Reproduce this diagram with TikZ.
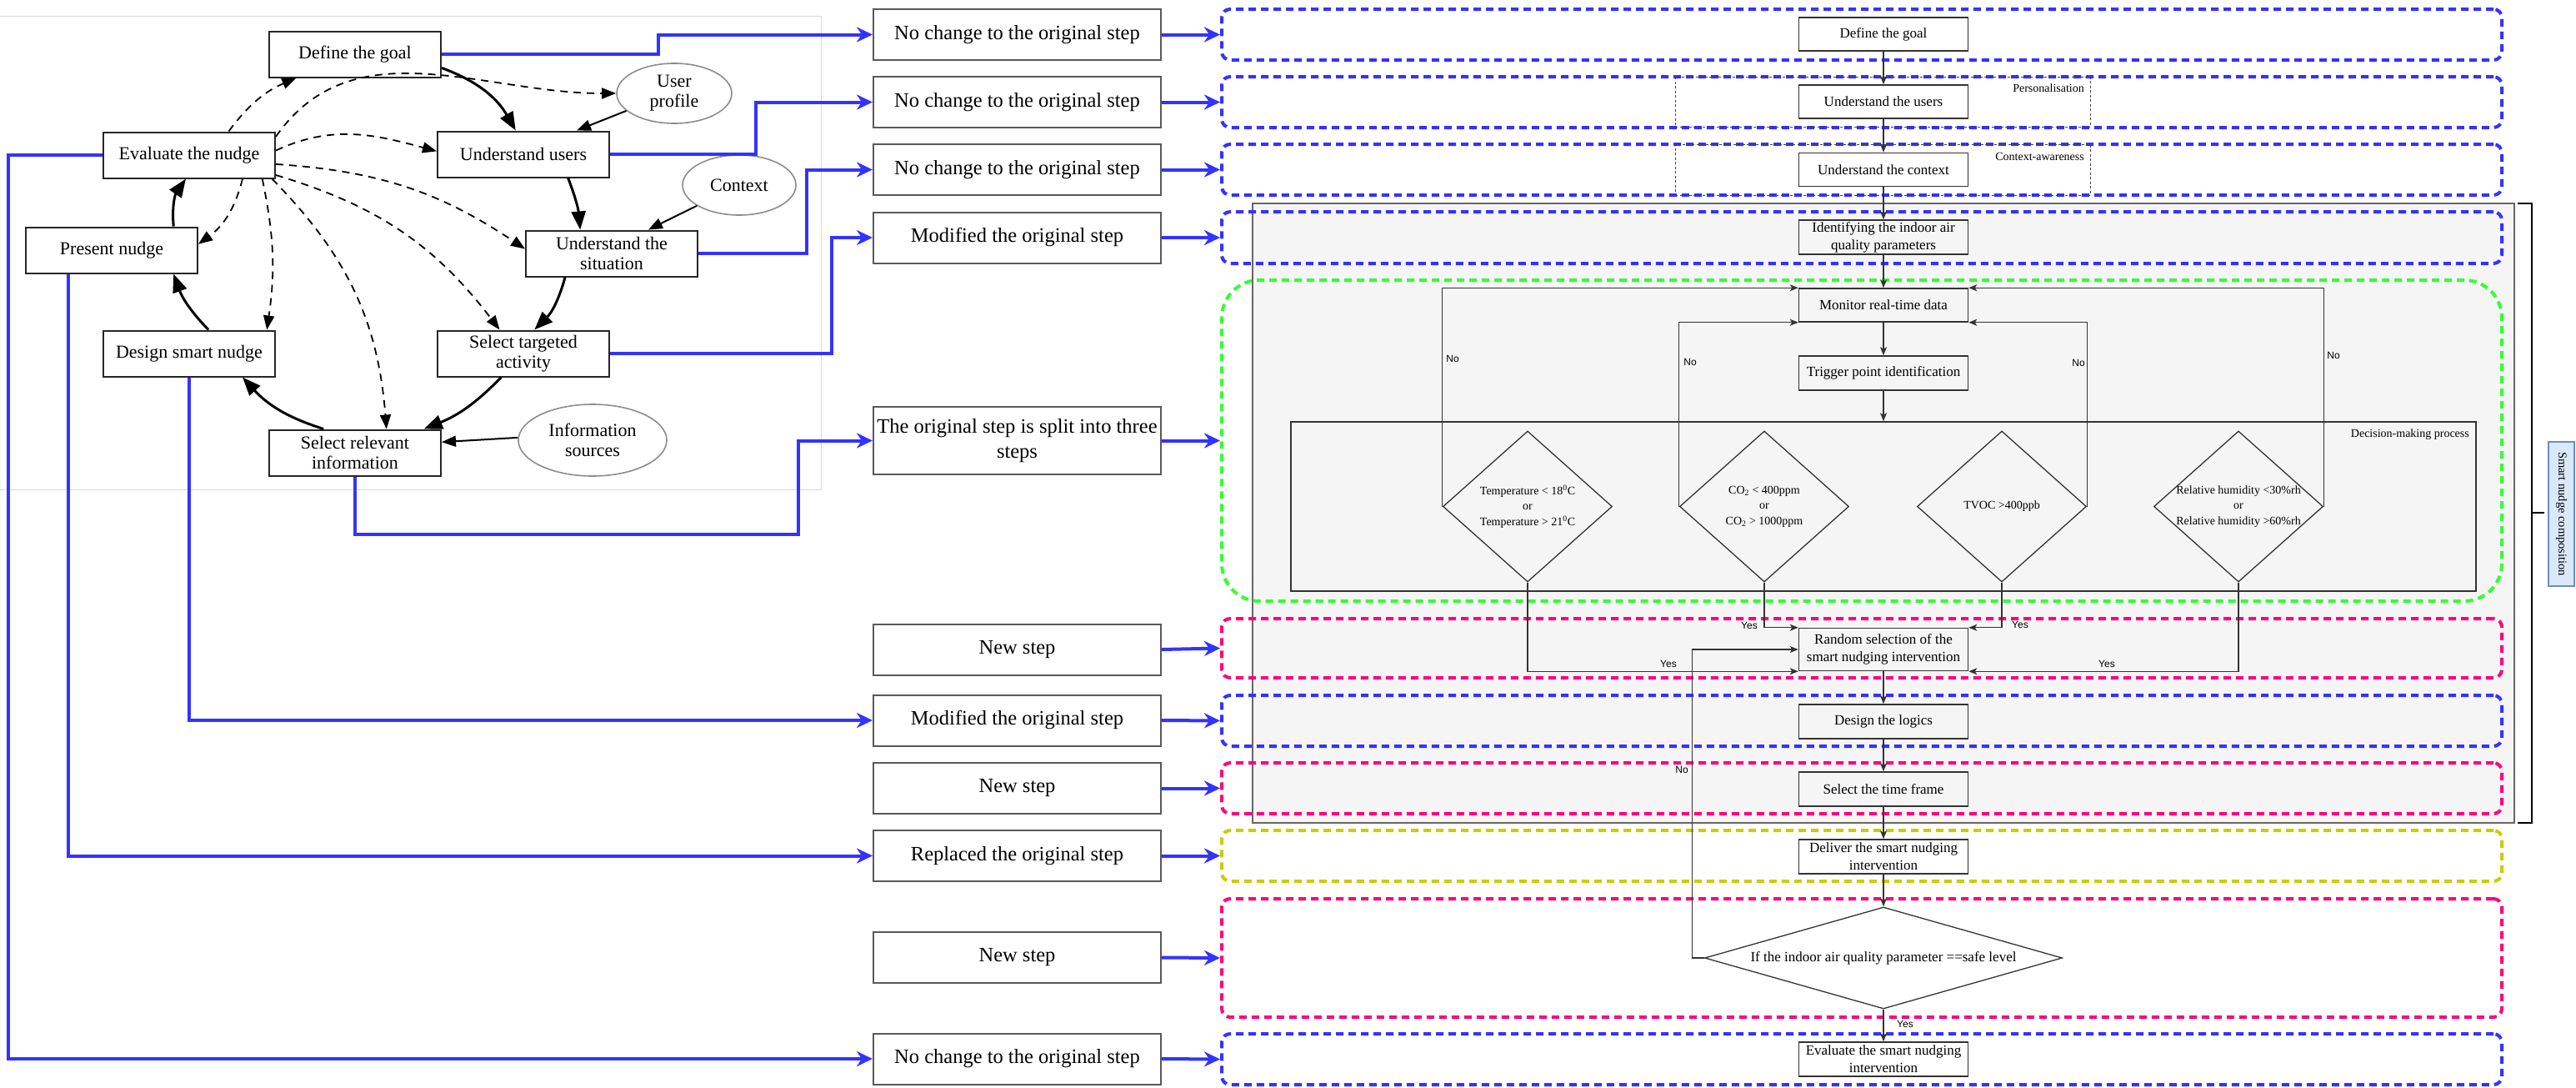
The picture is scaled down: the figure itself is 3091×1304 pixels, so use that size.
\documentclass[tikz,border=0pt]{standalone}
\usepackage{fontspec}
\setmainfont{Liberation Serif}
\newfontfamily\labelsans{Liberation Sans}
\usetikzlibrary{arrows.meta,shapes.geometric,calc}
\definecolor{linkblue}{RGB}{51,51,255}
\definecolor{rowpink}{RGB}{255,0,128}
\definecolor{rowgreen}{RGB}{51,255,51}
\definecolor{rowyellow}{RGB}{204,204,0}
\definecolor{panelgray}{RGB}{245,245,245}
\definecolor{panelline}{RGB}{102,102,102}
\definecolor{tagfill}{RGB}{218,232,252}
\definecolor{tagline}{RGB}{108,142,191}
\begin{document}
\begin{tikzpicture}[x=1pt,y=-1pt,
  cycbox/.style={draw=black!85, line width=2pt, minimum width=206pt, minimum height=55pt,
    inner sep=1pt, align=center, font=\fontsize{22}{24}\selectfont},
  cycell/.style={ellipse, draw=black!45, line width=1.6pt, inner sep=0pt, align=center,
    font=\fontsize{22}{24}\selectfont},
  cycstep/.style={line width=3pt, -{Triangle[length=22pt,width=17pt]}},
  cycdash/.style={line width=1.8pt, dash pattern=on 9pt off 7pt, -{Triangle[length=17pt,width=13pt]}},
  cycthin/.style={line width=2pt, -{Triangle[length=17pt,width=13pt]}},
  midbox/.style={draw=black!65, line width=2pt, minimum width=345pt, minimum height=61pt,
    inner sep=1pt, align=center, font=\fontsize{24.5}{30}\selectfont},
  link/.style={draw=linkblue, line width=4pt, -{Stealth[length=19pt,width=18pt,inset=6pt]}},
  rowframe/.style={line width=4pt, dash pattern=on 9pt off 6pt, rounded corners=10pt,
    minimum width=1536pt, inner sep=0pt},
  flowbox/.style={draw=black!80, line width=1.5pt, minimum width=203pt, minimum height=40pt,
    inner sep=1pt, align=center, font=\fontsize{17}{21}\selectfont},
  flow/.style={draw=black!80, line width=1.2pt, -{Stealth[length=10pt,width=8pt,inset=2.5pt]}},
  flowdia/.style={diamond, draw=black!80, line width=1.3pt, inner sep=0pt},
  diatext/.style={align=center, font=\fontsize{14}{18.5}\selectfont, inner sep=0pt},
  yn/.style={font=\labelsans\fontsize{12}{14}\selectfont, inner sep=1pt},
  groupframe/.style={draw=black!75, dash pattern=on 3pt off 2.5pt, line width=1pt,
    minimum width=498pt, inner sep=0pt},
  smalltag/.style={font=\fontsize{14}{16}\selectfont, inner sep=0pt, anchor=east}
]
\useasboundingbox (0,0) rectangle (3091,1304);

% faint frame round the nudging cycle
\draw[black!15, line width=1pt] (0,19) -- (985,19) -- (985,587) -- (0,587);

% ---------------- nudging cycle ----------------
\node[cycbox] (goal) at (426,65) {Define the goal};
\node[cycbox] (evaluate) at (227,186) {Evaluate the nudge};
\node[cycbox] (users) at (628,185) {Understand users};
\node[cycbox] (present) at (134,300) {Present nudge};
\node[cycbox] (situation) at (734,304) {Understand the\\situation};
\node[cycbox] (design) at (227,424) {Design smart nudge};
\node[cycbox] (targeted) at (628,424) {Select targeted\\activity};
\node[cycbox] (relevant) at (426,543) {Select relevant\\information};
\node[cycell, minimum width=138pt, minimum height=72pt] (uprof) at (809,112) {User\\profile};
\node[cycell, minimum width=136pt, minimum height=72pt] (context) at (887,222) {Context};
\node[cycell, minimum width=178pt, minimum height=86pt] (infosrc) at (711,528) {Information\\sources};

\draw[cycstep] (goal.-9) to[bend left=20] (users.108);
\draw[cycstep] (users.-28) to[bend left=8] (situation.143);
\draw[cycstep] (situation.207) to[bend left=15] (targeted.65);
\draw[cycstep] (targeted.227) to[bend left=12] (relevant.19);
\draw[cycstep] (relevant.143) to[bend left=15] (design.-24);
\draw[cycstep] (design.51) to[bend left=12] (present.-21);
\draw[cycstep] (present.21) to[bend left=20] (evaluate.-98);
\draw[cycdash] (evaluate.31) to[bend left=15] (goal.202);
\draw[cycdash] (evaluate.12) to[out=55,in=180] (uprof.west);
\draw[cycdash] (evaluate.3) to[out=25,in=165] (users.178);
\draw[cycdash] (evaluate.-6) to[bend left=15] (situation.177);
\draw[cycdash] (evaluate.-13) to[bend left=18] (targeted.135);
\draw[cycdash] (evaluate.-16) to[bend left=20] (relevant.37);
\draw[cycdash] (evaluate.-18) to[bend left=10] (design.17);
\draw[cycdash] (evaluate.-24) to[bend left=20] (present.4);
\draw[cycthin] (uprof.200) -- (users.24);
\draw[cycthin] (context.206) -- (situation.33);
\draw[cycthin] (infosrc.178) -- (relevant.7);

% ---------------- change notes ----------------
\node[midbox] (m1) at (1220.5,41.5) {No change to the original step};
\node[midbox] (m2) at (1220.5,122.5) {No change to the original step};
\node[midbox] (m3) at (1220.5,203.5) {No change to the original step};
\node[midbox] (m4) at (1220.5,285) {Modified the original step};
\node[midbox, minimum height=81pt] (m5) at (1220.5,528.5) {The original step is split into three\\steps};
\node[midbox] (m6) at (1220.5,779) {New step};
\node[midbox] (m7) at (1220.5,864) {Modified the original step};
\node[midbox] (m8) at (1220.5,945.5) {New step};
\node[midbox] (m9) at (1220.5,1026.5) {Replaced the original step};
\node[midbox] (m10) at (1220.5,1148.5) {New step};
\node[midbox] (m11) at (1220.5,1270) {No change to the original step};

\draw[link] (goal.east) -- ++(260,0) |- (m1.west);
\draw[link] (users.east) -- ++(175,0) |- (m2.west);
\draw[link] (situation.east) -- ++(130,0) |- (m3.west);
\draw[link] (targeted.east) -- ++(266,0) |- (m4.west);
\draw[link] (relevant.south) |- (958,641) |- (m5.west);
\draw[link] (design.south) |- (m7.west);
\draw[link] ($(present.south west)!0.25!(present.south east)$) |- (m9.west);
\draw[link] (evaluate.west) -- ++(-113,0) |- (m11.west);

% ---------------- smart nudge composition panel ----------------
\node[draw=panelline, fill=panelgray, line width=1.5pt, minimum width=1514pt, minimum height=743pt,
  inner sep=0pt] (comp) at (2260,615.5) {};
\draw[line width=2.5pt] (3021,244) -- (3038,244) -- (3038,987) -- (3021,987);
\coordinate (bracemid) at (3038,615);
\node[draw=tagline, fill=tagfill, line width=1.2pt, rotate=-90, minimum width=173pt,
  minimum height=31pt, inner sep=0pt, font=\fontsize{14.5}{16}\selectfont] (tag) at (3073.5,616.5)
  {Smart nudge composition};
\draw[line width=2.5pt] (bracemid) -- ++(15,0);

% step frames
\node[rowframe, draw=linkblue, minimum height=61pt] (r1) at (2234,41.5) {};
\node[rowframe, draw=linkblue, minimum height=61pt] (r2) at (2234,122.5) {};
\node[rowframe, draw=linkblue, minimum height=61pt] (r3) at (2234,203.5) {};
\node[rowframe, draw=linkblue, minimum height=62pt] (r4) at (2234,285) {};
\node[rowframe, draw=rowgreen, minimum height=385pt, rounded corners=45pt] (r5) at (2234,528.5) {};
\node[rowframe, draw=rowpink, minimum height=71pt] (r6) at (2234,777.5) {};
\node[rowframe, draw=linkblue, minimum height=61pt] (r7) at (2234,864.5) {};
\node[rowframe, draw=rowpink, minimum height=61pt] (r8) at (2234,945.5) {};
\node[rowframe, draw=rowyellow, minimum height=61pt] (r9) at (2234,1026.5) {};
\node[rowframe, draw=rowpink, minimum height=142pt] (r10) at (2234,1149) {};
\node[rowframe, draw=linkblue, minimum height=61pt] (r11) at (2234,1270.5) {};

\foreach \i in {1,...,11} {\draw[link] (m\i.east) -- (r\i.west);}

% personalisation / context-awareness groups
\node[groupframe, minimum height=60pt] (gpers) at (2259,122) {};
\node[groupframe, minimum height=61pt] (gctx) at (2259,203.5) {};
\node[smalltag] (perstag) at (2501,106) {Personalisation};
\node[smalltag] (ctxtag) at (2501,188) {Context-awareness};

% ---------------- smart nudging flowchart ----------------
\node[draw=black!80, fill=panelgray, line width=1.5pt, minimum width=1422pt, minimum height=203pt,
  inner sep=0pt] (dmp) at (2260,607.5) {};
\node[smalltag] (dmptag) at (2963,521) {Decision-making process};

\node[flowbox] (fgoal) at (2260,41) {Define the goal};
\node[flowbox] (fusers) at (2260,122) {Understand the users};
\node[flowbox] (fctx) at (2260,203.5) {Understand the context};
\node[flowbox, minimum height=41pt] (fiaq) at (2260,284.5) {Identifying the indoor air\\quality parameters};
\node[flowbox] (fmon) at (2260,366) {Monitor real-time data};
\node[flowbox, minimum height=41pt] (ftrig) at (2260,447.5) {Trigger point identification};

\node[flowdia, minimum width=203pt, minimum height=181pt] (temp) at (1833,607.5) {};
\node[flowdia, minimum width=203pt, minimum height=181pt] (co2) at (2117,607.5) {};
\node[flowdia, minimum width=203pt, minimum height=181pt] (tvoc) at (2402,607.5) {};
\node[flowdia, minimum width=203pt, minimum height=181pt] (rh) at (2686,607.5) {};
\node[diatext] (temptext) at (temp.center)
  {Temperature < 18\textsuperscript{0}C\\or\\Temperature > 21\textsuperscript{0}C};
\node[diatext] (co2text) at (co2.center)
  {CO\textsubscript{2} < 400ppm\\or\\CO\textsubscript{2} > 1000ppm};
\node[diatext] (tvoctext) at (tvoc.center) {TVOC >400ppb};
\node[diatext] (rhtext) at (rh.center)
  {Relative humidity <30\%rh\\or\\Relative humidity >60\%rh};

\node[flowbox, minimum height=51pt] (frand) at (2260,779) {Random selection of the\\smart nudging intervention};
\node[flowbox, minimum height=41pt] (flogic) at (2260,865.5) {Design the logics};
\node[flowbox, minimum height=41pt] (ftime) at (2260,946.5) {Select the time frame};
\node[flowbox, minimum height=41pt] (fdeliv) at (2260,1027.5) {Deliver the smart nudging\\intervention};
\node[flowdia, minimum width=429pt, minimum height=122pt] (safe) at (2260,1149) {};
\node[inner sep=0pt, font=\fontsize{17}{21}\selectfont] (safetext) at (safe.center)
  {If the indoor air quality parameter ==safe level};
\node[flowbox, minimum height=41pt] (feval) at (2260,1270.5) {Evaluate the smart nudging\\intervention};

\draw[flow] (fgoal.south) -- (fusers.north);
\draw[flow] (fusers.south) -- (fctx.north);
\draw[flow] (fctx.south) -- (fiaq.north);
\draw[flow] (fiaq.south) -- (fmon.north);
\draw[flow] (fmon.south) -- (ftrig.north);
\draw[flow] (ftrig.south) -- (ftrig.south |- dmp.north);

\draw[flow] (temp.west) |- (fmon.north west);
\draw[flow] (co2.west) |- (fmon.south west);
\draw[flow] (tvoc.east) |- (fmon.south east);
\draw[flow] (rh.east) |- (fmon.north east);
\node[yn] (no1) at (1743,430) {No};
\node[yn] (no2) at (2028,434) {No};
\node[yn] (no3) at (2494,435) {No};
\node[yn] (no4) at (2800,426) {No};

\draw[flow] (co2.south) |- (frand.north west);
\draw[flow] (tvoc.south) |- (frand.north east);
\draw[flow] (temp.south) |- (frand.south west);
\draw[flow] (rh.south) |- (frand.south east);
\node[yn] (yes1) at (2099,750) {Yes};
\node[yn] (yes2) at (2424,749) {Yes};
\node[yn] (yes3) at (2002,796) {Yes};
\node[yn] (yes4) at (2528,796) {Yes};

\draw[flow] (frand.south) -- (flogic.north);
\draw[flow] (flogic.south) -- (ftime.north);
\draw[flow] (ftime.south) -- (fdeliv.north);
\draw[flow] (fdeliv.south) -- (safe.north);
\draw[flow] (safe.west) -- ++(-14,0) |- (frand.west);
\node[yn] (no5) at (2018,923) {No};
\draw[flow] (safe.south) -- (feval.north);
\node[yn, fill=white] (yes5) at (2286,1228) {Yes};
\end{tikzpicture}
\end{document}
